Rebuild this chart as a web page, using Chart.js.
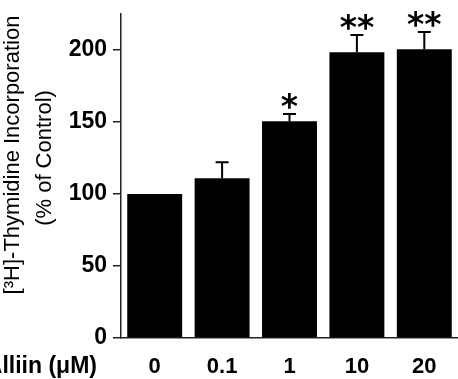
<!DOCTYPE html>
<html>
<head>
<meta charset="utf-8">
<script src="https://cdn.jsdelivr.net/npm/chart.js@4.4.1/dist/chart.umd.min.js"></script>
<style>
  html, body { margin:0; padding:0; background:#fff; }
  #wrap { width:458px; height:379px; position:relative; }
</style>
</head>
<body>
<div id="wrap"><canvas id="alliin-chart"></canvas></div>
<script>
// Alliin dose -> thymidine incorporation (% of control)
const doses = ["0", "0.1", "1", "10", "20"];
const means = [100, 111, 150.5, 198.5, 200.5];
const errs = [0, 11, 5, 12, 12];
const stars = ["", "", "*", "**", "**"];
const yTicks = [0, 50, 100, 150, 200];

const titleLines = ["[\u00b3H]-Thymidine Incorporation", "(% of Control)"];
const xName = "Alliin (\u03bcM)";

Chart.defaults.font.family = "'Liberation Sans', Arial, sans-serif";
Chart.defaults.color = "#000";

// error bars, stars and the axis titles
const extras = {
    id: "extras",
    afterDatasetsDraw(chart) {
        const ctx = chart.ctx;
        const y = chart.scales.y;
        const meta = chart.getDatasetMeta(0);
        ctx.save();
        ctx.strokeStyle = "#000";
        ctx.lineWidth = 2;
        meta.data.forEach((bar, i) => {
            const top = y.getPixelForValue(means[i] + errs[i]);
            if (errs[i] > 0) {
                ctx.beginPath();
                ctx.moveTo(bar.x, y.getPixelForValue(means[i]));
                ctx.lineTo(bar.x, top);
                ctx.moveTo(bar.x - 6.5, top);
                ctx.lineTo(bar.x + 6.5, top);
                ctx.stroke();
            }
            if (stars[i]) {
                ctx.font = "bold 33px 'DejaVu Sans'";
                ctx.textAlign = "center";
                ctx.textBaseline = "alphabetic";
                const m = ctx.measureText(stars[i]);
                const cy = top - 13;
                ctx.fillStyle = "#000";
                ctx.fillText(stars[i], bar.x, cy + (m.actualBoundingBoxAscent - m.actualBoundingBoxDescent) / 2);
            }
        });
        ctx.restore();
    },
    afterDraw(chart) {
        const ctx = chart.ctx;
        const area = chart.chartArea;
        ctx.save();
        ctx.fillStyle = "#000";
        ctx.font = "22px 'Liberation Sans', Arial, sans-serif";
        ctx.textAlign = "center";
        ctx.textBaseline = "middle";
        ctx.translate(0, 155);
        ctx.rotate(-Math.PI / 2);
        ctx.fillText(titleLines[0], 0, 13);
        ctx.fillText(titleLines[1], -3, 45);
        ctx.restore();

        ctx.save();
        ctx.fillStyle = "#000";
        ctx.font = "bold 23px 'Liberation Sans', Arial, sans-serif";
        ctx.textAlign = "right";
        ctx.textBaseline = "middle";
        ctx.fillText(xName, 97, area.bottom + 29);
        ctx.restore();
    }
};

new Chart(document.getElementById("alliin-chart"), {
    type: "bar",
    data: {
        labels: doses,
        datasets: [{
            data: means,
            backgroundColor: "#000",
            borderWidth: 0,
            barPercentage: 0.815,
            categoryPercentage: 1
        }]
    },
    options: {
        responsive: true,
        maintainAspectRatio: false,
        animation: false,
        layout: { padding: { top: 14, right: 0, bottom: 0, left: 0 } },
        plugins: { legend: { display: false }, tooltip: { enabled: false } },
        scales: {
            x: {
                grid: { display: false, drawTicks: false },
                border: { display: true, color: "#222", width: 1.5 },
                ticks: { padding: 16, font: { size: 22, weight: "bold" } },
                afterFit: s => { s.height = 41; s.paddingLeft = 0; s.paddingRight = 0; }
            },
            y: {
                min: 0,
                max: 225,
                afterBuildTicks: s => { s.ticks = yTicks.map(v => ({ value: v })); },
                grid: { drawOnChartArea: false, drawTicks: true, tickLength: 8, color: "#222", lineWidth: 1.5 },
                border: { display: true, color: "#222", width: 1.5 },
                ticks: { padding: 6, font: { size: 23, weight: "bold" } },
                afterFit: s => { s.width = 121; s.paddingTop = 0; s.paddingBottom = 0; }
            }
        }
    },
    plugins: [extras]
});
</script>
</body>
</html>
